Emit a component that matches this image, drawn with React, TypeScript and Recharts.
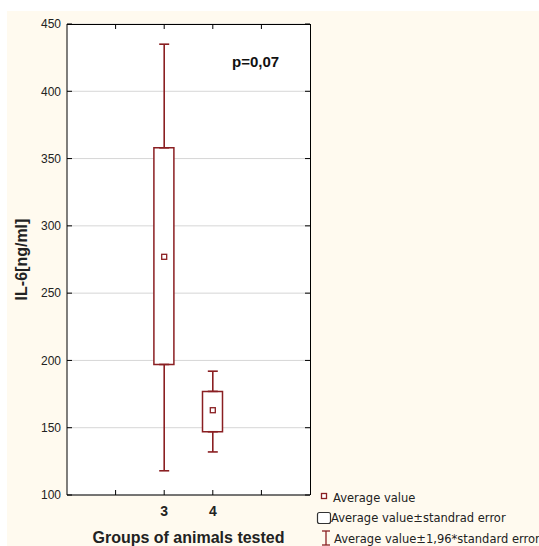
import React from 'react'
import { ComposedChart, Bar, Scatter, ErrorBar, XAxis, YAxis, CartesianGrid } from 'recharts'

// values (IL-6, ng/ml)
const groups = [3, 4]
const means = [277, 163]
const seLow = [197, 147]
const seHigh = [358, 177]
const ciLow = [118, 132]
const ciHigh = [435, 192]

const xDomain = [1, 6]
const yDomain = [100, 450]
const xTicks = [2, 3, 4, 5]
const xLabels = ['', '3', '4', '']
const yTicks = [100, 150, 200, 250, 300, 350, 400, 450]

const legendLabels = [
  'Average value',
  'Average value\u00b1standrad error',
  'Average value\u00b11,96*standard error',
]

const RED = '#8a1f22'

// plot box in pixels (set by the chart margins / axis sizes below)
const W = 539
const H = 546
const box = { left: 67, top: 24, right: 310, bottom: 495 }

const data = groups.map((g, i) => ({
  group: g,
  mean: means[i],
  box: [seLow[i], seHigh[i]],
  upper: seHigh[i],
  upperErr: [0, ciHigh[i] - seHigh[i]],
  lower: seLow[i],
  lowerErr: [seLow[i] - ciLow[i], 0],
}))

const MeanMarker = (props: any) => {
  const { cx, cy } = props
  if (cx == null || cy == null) return <g />
  return <rect x={cx - 2.5} y={cy - 2.5} width={5} height={5} fill="#fff" stroke={RED} strokeWidth={1.3} />
}

const Hidden = () => <g />

const tickStyle = { fontFamily: 'Liberation Sans, Arial', fontSize: 12, fill: '#222' }

// frame tick positions on the mirrored top / right edges
const frameX = (t: number) => box.left + ((t - xDomain[0]) / (xDomain[1] - xDomain[0])) * (box.right - box.left)
const frameY = (t: number) => box.bottom - ((t - yDomain[0]) / (yDomain[1] - yDomain[0])) * (box.bottom - box.top)

export default function App() {
  return (
    <div style={{ position: 'absolute', left: 0, top: 0, width: W, height: H, background: '#fff' }}>
      <div style={{ position: 'absolute', left: 7, top: 11, width: W - 7, height: H - 11, background: '#fffaef' }} />
      <div style={{ position: 'absolute', left: 0, top: 0 }}>
        <ComposedChart
          width={W}
          height={H}
          data={data}
          margin={{ top: box.top, right: W - box.right, bottom: 0, left: 0 }}
        >
          <CartesianGrid vertical={false} fill="#fff" stroke="#d6d6d6" />
          <XAxis
            dataKey="group"
            type="number"
            domain={xDomain}
            ticks={xTicks}
            interval={0}
            height={H - box.bottom}
            axisLine={{ stroke: '#000' }}
            tickLine={{ stroke: '#000' }}
            tickSize={-5}
            tickMargin={16}
            tickFormatter={(v: number) => xLabels[xTicks.indexOf(v)] ?? ''}
            tick={{ ...tickStyle, fontSize: 14, fontWeight: 'bold', fill: '#222' }}
            label={{ value: 'Groups of animals tested', position: 'insideBottom', offset: 3, style: { fontFamily: 'Liberation Sans, Arial', fontSize: 16, fontWeight: 'bold', fill: '#222' } }}
          />
          <YAxis
            type="number"
            domain={yDomain}
            ticks={yTicks}
            interval={0}
            width={box.left}
            axisLine={{ stroke: '#000' }}
            tickLine={{ stroke: '#000' }}
            tickSize={-5}
            tickMargin={11}
            tick={tickStyle}
            label={{ value: 'IL-6[ng/ml]', angle: -90, position: 'insideLeft', offset: 21, style: { textAnchor: 'middle', fontFamily: 'Liberation Sans, Arial', fontSize: 16, fontWeight: 'bold', fill: '#222' } }}
          />
          <Bar
            dataKey="box"
            barSize={20}
            fill="#fff"
            stroke={RED}
            strokeWidth={1.5}
            isAnimationActive={false}
          />
          <Scatter dataKey="upper" shape={Hidden} isAnimationActive={false}>
            <ErrorBar dataKey="upperErr" direction="y" width={5} stroke={RED} strokeWidth={1.6} isAnimationActive={false} />
          </Scatter>
          <Scatter dataKey="lower" shape={Hidden} isAnimationActive={false}>
            <ErrorBar dataKey="lowerErr" direction="y" width={5} stroke={RED} strokeWidth={1.6} isAnimationActive={false} />
          </Scatter>
          <Scatter dataKey="mean" shape={MeanMarker} isAnimationActive={false} />
        </ComposedChart>
      </div>
      <svg width={W} height={H} style={{ position: 'absolute', left: 0, top: 0, pointerEvents: 'none' }}>
        {/* top and right edges of the frame, with inward ticks */}
        <g stroke="#000" strokeWidth={1}>
          <line x1={box.left} y1={box.top + 0.5} x2={box.right + 0.5} y2={box.top + 0.5} />
          <line x1={box.right + 0.5} y1={box.top} x2={box.right + 0.5} y2={box.bottom} />
          {xTicks.map((t) => (
            <line key={'tx' + t} x1={frameX(t)} y1={box.top} x2={frameX(t)} y2={box.top + 5} />
          ))}
          {yTicks.map((t) => (
            <line key={'ty' + t} x1={box.right} y1={frameY(t)} x2={box.right - 5} y2={frameY(t)} />
          ))}
        </g>
        <text x={232} y={67} fontFamily="Liberation Sans, Arial" fontSize={15} fontWeight="bold" fill="#111">p=0,07</text>
        <rect x={321.5} y={493.5} width={5} height={5} fill="#fff" stroke={RED} strokeWidth={1.3} />
        <rect x={317.5} y={512.5} width={13} height={11} rx={2} fill="#fff" stroke="#333" strokeWidth={1.2} />
        <g stroke={RED} strokeWidth={1.3}>
          <line x1={326} y1={531} x2={326} y2={545} />
          <line x1={322} y1={531} x2={330} y2={531} />
          <line x1={322} y1={545} x2={330} y2={545} />
        </g>
        {legendLabels.map((t, i) => (
          <text key={t} x={[333, 331, 334][i]} y={[501.5, 522, 542.5][i]} fontFamily="DejaVu Sans" fontSize={11.5} fill="#222">{t}</text>
        ))}
      </svg>
    </div>
  )
}
